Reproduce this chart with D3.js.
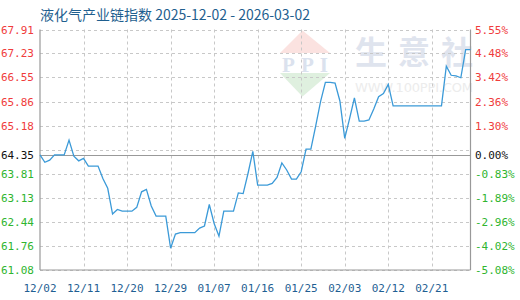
<!DOCTYPE html>
<html><head><meta charset="utf-8">
<script src="https://cdn.jsdelivr.net/npm/d3@7"></script>
<style>body{margin:0;background:#fff}svg{display:block}</style>
</head><body>
<script>
const title = "液化气产业链指数 2025-12-02 - 2026-03-02";
const startDate = "2025-12-02";
const values = [64.35,64.14,64.20,64.35,64.35,64.35,64.77,64.31,64.18,64.25,
64.03,64.03,64.03,63.68,63.40,62.67,62.80,62.75,62.75,62.75,
62.86,63.30,63.37,62.90,62.61,62.61,62.61,61.70,62.10,62.14,
62.14,62.14,62.14,62.27,62.33,62.94,62.40,62.04,62.75,62.75,
62.75,63.27,63.25,63.82,64.45,63.49,63.49,63.49,63.54,63.71,
64.12,63.92,63.66,63.66,63.87,64.51,64.51,65.17,65.86,66.41,
66.41,66.39,65.88,64.82,65.38,65.97,65.31,65.31,65.34,65.65,
66.00,66.09,66.35,65.74,65.74,65.74,65.74,65.74,65.74,65.74,
65.74,65.74,65.74,65.74,66.87,66.61,66.59,66.54,67.34,67.34];
const baseValue = 64.35;
const yTicks = [67.91,67.23,66.55,65.86,65.18,64.49,63.81,63.13,62.44,61.76,61.08];
const yLabels = ["67.91","67.23","66.55","65.86","65.18","","63.81","63.13","62.44","61.76","61.08"];
const pctLabels = ["5.55%","4.48%","3.42%","2.36%","1.30%","","-0.83%","-1.89%","-2.96%","-4.02%","-5.08%"];
const xTickLabels = ["12/02","12/11","12/20","12/29","01/07","01/16","01/25","02/03","02/12","02/21"];
const watermarkChars = ["生","意","社"];

const W=520,H=300;
const m={l:40,r:470.5,t:29.5,b:270};
const svg=d3.select("body").append("svg").attr("width",W).attr("height",H);

const parse=d3.timeParse("%Y-%m-%d");
const d0=parse(startDate);
const dates=values.map((v,i)=>d3.timeDay.offset(d0,i));
const x=d3.scaleTime().domain([dates[0],dates[dates.length-1]]).range([m.l,m.r]);
const y=d3.scaleLinear().domain([61.08,67.91]).range([m.b,m.t]);
const fmt=d3.timeFormat("%m/%d");
const tickDates=dates.filter(d=>xTickLabels.includes(fmt(d)));

// watermark
const wm=svg.append("g");
wm.append("path").attr("d",`M280,53 L302.5,30.5 L330,53 Z`).attr("fill","#fbe2e0");
wm.append("path").attr("d",`M280,73 L330,73 L302.5,96.5 Z`).attr("fill","#dff0df");
wm.append("text").attr("x",305).attr("y",71.5).attr("text-anchor","middle")
  .attr("font-family","Liberation Serif").attr("font-weight","bold").attr("font-size",21)
  .attr("fill","#dbe2ee").attr("textLength",46).text("PPI");
watermarkChars.forEach((c,i)=>{
  wm.append("text").attr("x",355+i*43).attr("y",64).attr("font-family","Noto Sans CJK SC")
    .attr("font-weight","bold").attr("font-size",32).attr("fill","#dfe4ee").text(c);
});
wm.append("text").attr("x",355).attr("y",92).attr("font-family","DejaVu Sans")
  .attr("font-size",13).attr("fill","#ececec").attr("textLength",118).text("WWW.100PPI.COM");

// grid
const grid=svg.append("g").attr("stroke","#c8c8c8").attr("stroke-dasharray","3,3").attr("stroke-width",1);
yTicks.forEach(t=>{const yy=Math.round(y(t))+0.5;
  grid.append("line").attr("x1",m.l).attr("x2",m.r).attr("y1",yy).attr("y2",yy);});
tickDates.slice(1).forEach(d=>{const xx=Math.round(x(d))+0.5;
  grid.append("line").attr("x1",xx).attr("x2",xx).attr("y1",m.t).attr("y2",m.b);});

// axes frame
const ax=svg.append("g").attr("stroke","#999").attr("stroke-width",1.2).attr("fill","none");
ax.append("line").attr("x1",m.l).attr("x2",m.l).attr("y1",m.t).attr("y2",m.b);
ax.append("line").attr("x1",m.r).attr("x2",m.r).attr("y1",m.t).attr("y2",m.b);
ax.append("line").attr("x1",m.l).attr("x2",m.r).attr("y1",m.b).attr("y2",m.b);
const by=Math.round(y(baseValue))+0.5;
ax.append("line").attr("x1",m.l).attr("x2",m.r).attr("y1",by).attr("y2",by);

// line
svg.append("path").datum(values)
  .attr("fill","none").attr("stroke","#3b9ad8").attr("stroke-width",1.3)
  .attr("d",d3.line().x((d,i)=>x(dates[i])).y(d=>y(d)));

// labels
const font="DejaVu Sans Mono";
const red="#f03c3c",green="#2fb52f",blk="#111";
const lab=svg.append("g").attr("font-family",font).attr("font-size",11);
yTicks.forEach((t,i)=>{ if(!yLabels[i])return;
  const c=t>baseValue?red:green;
  lab.append("text").attr("x",34).attr("y",y(t)+4).attr("text-anchor","end").attr("fill",c).text(yLabels[i]);
  lab.append("text").attr("x",475).attr("y",y(t)+4).attr("fill",c).text(pctLabels[i]);
});
lab.append("text").attr("x",34).attr("y",y(baseValue)+4).attr("text-anchor","end").attr("fill",blk).text(baseValue.toFixed(2));
lab.append("text").attr("x",475).attr("y",y(baseValue)+4).attr("fill",blk).text("0.00%");

const xl=svg.append("g").attr("font-family",font).attr("font-size",11).attr("fill","#1f5f93");
tickDates.forEach(d=>{
  xl.append("text").attr("x",x(d)).attr("y",292).attr("text-anchor","middle").text(fmt(d));
});

svg.append("text").attr("x",40).attr("y",20).attr("font-family","Noto Sans CJK SC")
  .attr("font-size",14).attr("fill","#1f5f8f").text(title);
</script>
</body></html>
